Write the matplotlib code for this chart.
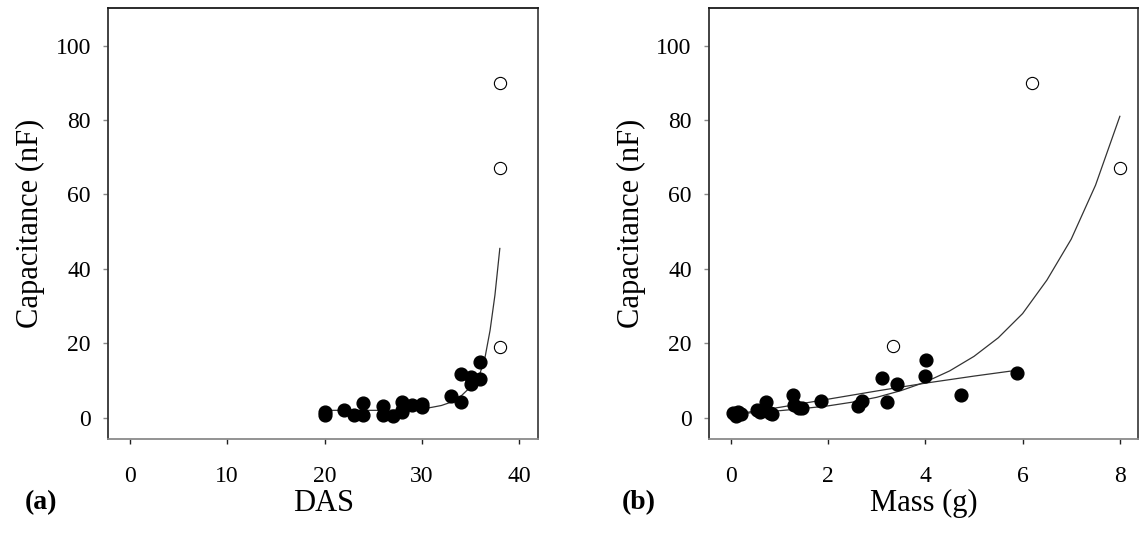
import numpy as np
import matplotlib
matplotlib.use("Agg")
import matplotlib.pyplot as plt

plt.rcParams['font.family'] = ['Liberation Serif', 'DejaVu Serif']

# panel (a): capacitance vs DAS
das = [20, 20, 22, 23, 24, 24, 26, 26, 27, 28, 28, 28, 29, 30, 30, 33, 34, 34, 35, 35, 36, 36]
cap_das = [1.5, 0.7, 2.2, 0.8, 3.9, 0.7, 3.1, 0.8, 0.5, 4.3, 2.0, 1.5, 3.3, 3.7, 2.8, 5.8, 11.7, 4.3, 11.0, 9.0, 15.1, 10.3]
das_out = [38, 38, 38]
cap_das_out = [90, 67, 19]
# fitted curve
fit_das_x = [20, 22, 24, 26, 28, 30, 31, 32, 33, 34, 35, 35.5, 36, 36.5, 37, 37.5, 38]
fit_das_y = [2.0, 2.0, 2.0, 2.0, 2.1, 2.4, 2.8, 3.3, 4.2, 5.8, 8.3, 10.0, 12.2, 16.5, 23.5, 33.0, 45.5]

# panel (b): capacitance vs mass
mass = [0.05, 0.1, 0.15, 0.2, 0.53, 0.6, 0.72, 0.8, 0.85, 1.27, 1.3, 1.41, 1.46, 1.85, 2.62, 2.69, 3.10, 3.21, 3.41, 3.99, 4.01, 4.73, 5.88]
cap_mass = [1.3, 0.6, 1.5, 1.0, 2.2, 1.5, 4.3, 1.3, 1.0, 6.0, 3.5, 2.6, 2.7, 4.5, 3.1, 4.6, 10.7, 4.3, 9.1, 11.1, 15.4, 6.2, 12.0]
mass_out = [6.2, 8.0, 3.34]
cap_mass_out = [90, 67, 19.2]
fit_exp_x = [0, 0.5, 1, 1.5, 2, 2.5, 3, 3.5, 4, 4.5, 5, 5.5, 6, 6.5, 7, 7.5, 8]
fit_exp_y = [1.0, 1.4, 1.9, 2.5, 3.2, 4.2, 5.5, 7.3, 9.6, 12.6, 16.5, 21.5, 28.0, 37.0, 48.0, 62.5, 81.0]
fit_lin_x = [0, 0.25, 0.5, 1, 1.5, 2, 3, 4, 5, 5.9]
fit_lin_y = [0.8, 1.3, 1.8, 2.8, 3.9, 5.0, 7.2, 9.3, 11.2, 12.8]

fig = plt.figure(figsize=(11.39, 5.36), dpi=100)
ax1 = fig.add_axes([0.0951, 0.181, 0.3775, 0.804])
ax2 = fig.add_axes([0.6225, 0.181, 0.3769, 0.804])


def style(ax):
    ax.spines['top'].set_color('#1a1a1a')
    ax.spines['left'].set_color('#333333')
    ax.spines['right'].set_color('#444444')
    ax.spines['bottom'].set_color('#8a8a8a')
    for s in ax.spines.values():
        s.set_linewidth(1.3)
    ax.tick_params(axis='x', direction='out', length=3.5, width=1, color='#222222',
                   labelsize=17, pad=16)
    ax.tick_params(axis='y', direction='out', length=3.5, width=1, color='#888888',
                   labelsize=17, pad=9)
    ax.set_ylim(-5.7, 110.1)
    ax.set_yticks([0, 20, 40, 60, 80, 100])
    ax.set_ylabel('Capacitance (nF)', fontsize=22)
    ax.yaxis.set_label_coords(-0.147, 0.5)


ax1.plot(fit_das_x, fit_das_y, color='#333333', lw=0.9)
ax1.plot(das, cap_das, 'o', color='black', ms=9.2)
ax1.plot(das_out, cap_das_out, 'o', mfc='white', mec='black', mew=0.8, ms=8.8)
ax1.set_xlim(-2.2, 41.95)
ax1.set_xticks([0, 10, 20, 30, 40])
ax1.set_xlabel('DAS', fontsize=22)
style(ax1)

ax2.plot(fit_exp_x, fit_exp_y, color='#333333', lw=0.9)
ax2.plot(fit_lin_x, fit_lin_y, color='#333333', lw=0.9)
ax2.plot(mass, cap_mass, 'o', color='black', ms=9.2)
ax2.plot(mass_out, cap_mass_out, 'o', mfc='white', mec='black', mew=0.8, ms=8.8)
ax2.set_xlim(-0.45, 8.38)
ax2.set_xticks([0, 2, 4, 6, 8])
ax2.set_xlabel('Mass (g)', fontsize=22)
style(ax2)

ax1.xaxis.set_label_coords(0.5, -0.115)
ax2.xaxis.set_label_coords(0.5, -0.115)

fig.text(25 / 1139, 1 - 509 / 536, '(a)', fontsize=20, fontweight='bold', va='baseline')
fig.text(622 / 1139, 1 - 509 / 536, '(b)', fontsize=20, fontweight='bold', va='baseline')

fig.savefig('out.png', dpi=100)
